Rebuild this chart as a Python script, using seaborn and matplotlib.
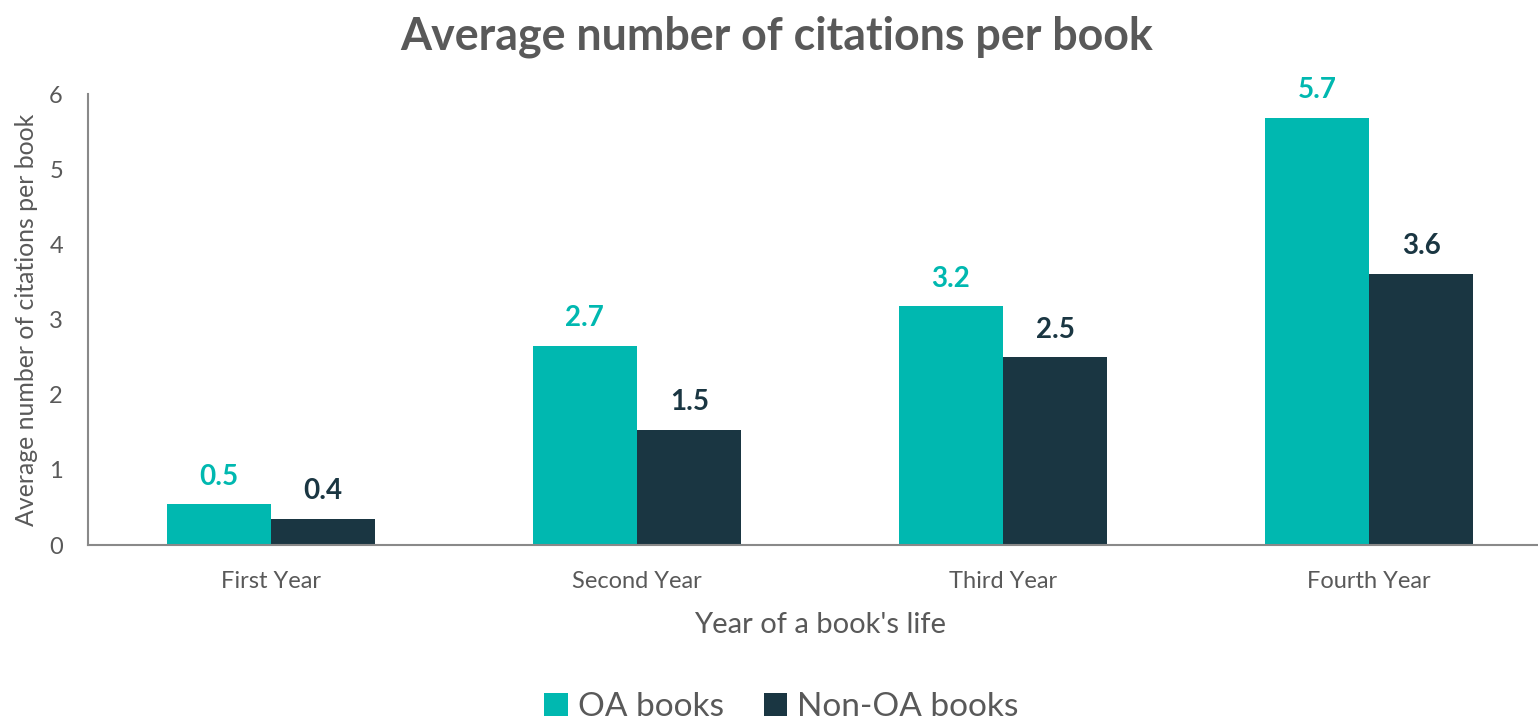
import matplotlib
matplotlib.use("Agg")
import matplotlib.pyplot as plt
import seaborn as sns
import pandas as pd
from matplotlib.patches import Patch

categories = ["First Year", "Second Year", "Third Year", "Fourth Year"]
series_names = ["OA books", "Non-OA books"]
oa_values = [0.545, 2.65, 3.18, 5.69]
non_oa_values = [0.346, 1.535, 2.50, 3.61]
oa_labels = ["0.5", "2.7", "3.2", "5.7"]
non_oa_labels = ["0.4", "1.5", "2.5", "3.6"]

colors = ["#00B8B0", "#1A3642"]
text_gray = "#595959"
axis_gray = "#898989"

df = pd.DataFrame({
    "Year": categories * 2,
    "Series": [series_names[0]] * 4 + [series_names[1]] * 4,
    "Value": oa_values + non_oa_values,
})

sns.set_theme(style="white")
plt.rcParams["font.family"] = ["Lato", "DejaVu Sans"]

fig = plt.figure(figsize=(15.38, 7.2), dpi=100)
ax = fig.add_axes([0.0572, 0.243, 0.952, 0.626])

sns.barplot(data=df, x="Year", y="Value", hue="Series", order=categories,
            hue_order=series_names, palette=colors, width=0.57, saturation=1,
            edgecolor="none", linewidth=0, legend=False, ax=ax)

ax.set_xlim(-0.5, 3.5)
ax.set_ylim(0, 6)
ax.set_yticks(range(0, 7))
ax.tick_params(axis="y", labelsize=17, colors=text_gray, length=6, width=1.2,
               color=axis_gray, direction="out", pad=12)
ax.tick_params(axis="x", which="major", labelsize=17, labelcolor=text_gray, length=0, pad=19)
ax.set_xticks([-0.5, 0.5, 1.5, 2.5, 3.5], minor=True)
ax.tick_params(axis="x", which="minor", length=6, width=1.2, color=axis_gray, direction="out")

for side in ["top", "right"]:
    ax.spines[side].set_visible(False)
for side in ["left", "bottom"]:
    ax.spines[side].set_color(axis_gray)
    ax.spines[side].set_linewidth(1.5)

ax.set_ylabel("Average number of citations per book", fontsize=17.9, color=text_gray, labelpad=8)
ax.set_xlabel("Year of a book's life", fontsize=21, color=text_gray, labelpad=14)

# data labels
for cont, labels, col in zip(ax.containers, [oa_labels, non_oa_labels], colors):
    ax.bar_label(cont, labels=labels, padding=10.5, color=col, fontsize=20, fontweight="bold")

fig.suptitle("Average number of citations per book", x=0.505, y=0.978,
             fontsize=32.2, fontweight="bold", color=text_gray)

handles = [Patch(facecolor=c, edgecolor="none") for c in colors]
fig.legend(handles, series_names, loc="lower center", bbox_to_anchor=(0.508, -0.045),
           ncol=2, frameon=False, fontsize=24, labelcolor=text_gray,
           handlelength=0.7, handleheight=0.7, handletextpad=0.3, columnspacing=1.2)

fig.savefig("out.png", dpi=100)
